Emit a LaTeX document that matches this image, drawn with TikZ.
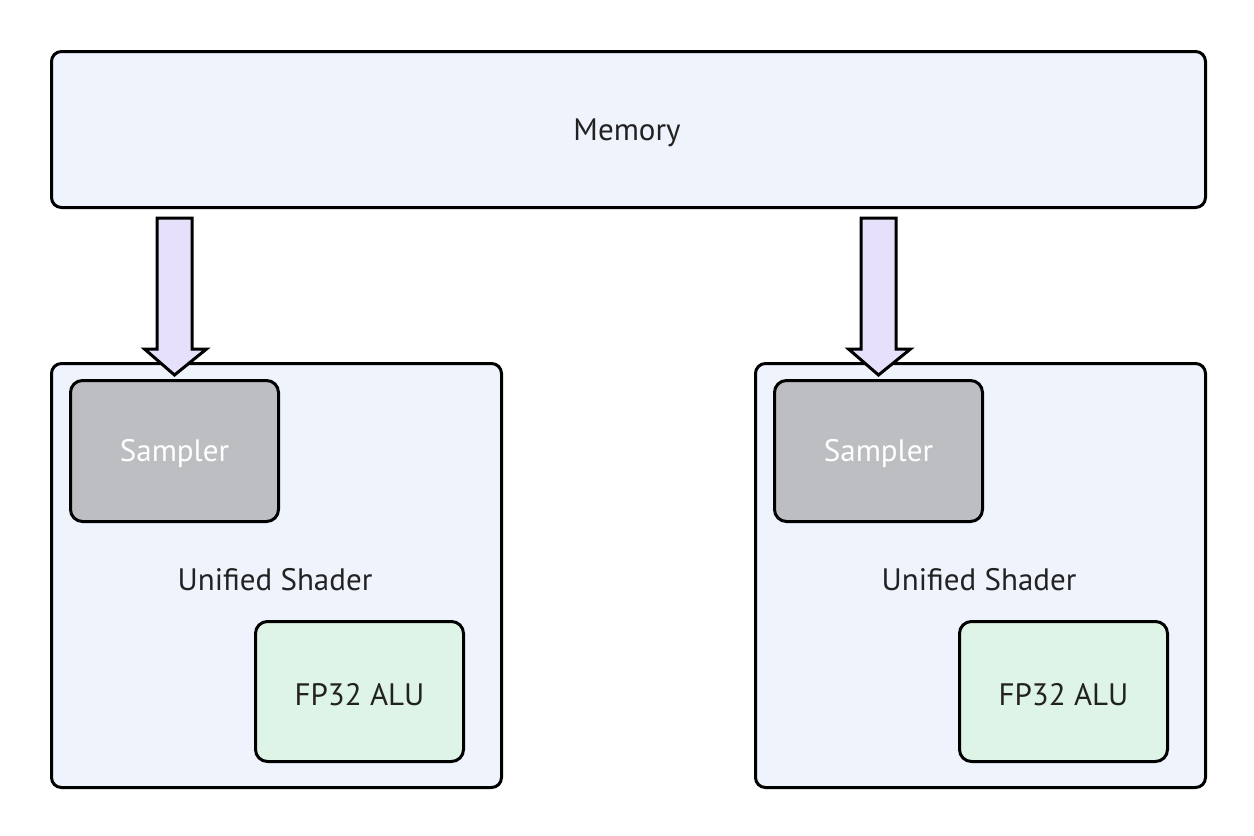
\documentclass[tikz,border=0pt]{standalone}
\usepackage{fontspec}
\setmainfont{PT Sans}
\usetikzlibrary{calc}
\definecolor{boxblue}{HTML}{EEF3FC}
\definecolor{samp}{HTML}{BCBEC2}
\definecolor{alu}{HTML}{DEF4E6}
\definecolor{lav}{HTML}{E7E0FB}
\definecolor{txt}{HTML}{222222}
\tikzset{
  box/.style={draw=black, line width=3pt, rounded corners=10pt, inner sep=0pt, anchor=north west},
  lbl/.style={font=\fontsize{31}{35}\selectfont, text=txt, yshift=-3pt},
  fatarrow/.style={draw=black, line width=3pt, fill=lav, line join=miter},
}
\begin{document}
\begin{tikzpicture}[x=1pt,y=-1pt]
\useasboundingbox (0,0) rectangle (1254,836);
\node[box, fill=boxblue, minimum width=1154pt, minimum height=156pt] (mem) at (50,50) {};
\node[lbl] (memt) at (627,130) {Memory};
\foreach \i/\dx in {1/0,2/704}{
  \node[box, fill=boxblue, minimum width=450pt, minimum height=424pt] (sh\i) at (50+\dx,362) {};
  \node[box, fill=samp, rounded corners=12pt, minimum width=208pt, minimum height=141pt] (s\i) at (69+\dx,379) {};
  \node[lbl, text=white] (st\i) at (s\i.center) {Sampler};
  \node[lbl] (ut\i) at (275+\dx,577) {Unified Shader};
  \node[box, fill=alu, rounded corners=12pt, minimum width=208pt, minimum height=140pt] (a\i) at (254+\dx,620) {};
  \node[lbl] (at\i) at (a\i.center) {FP32 ALU};
  \coordinate (tip\i) at ($(s\i.north)+(0,-4)$);
  \coordinate (top\i) at ($(mem.south)!(tip\i)!(mem.south east)+(0,9)$);
  \draw[fatarrow] ($(top\i)+(-17.5,0)$) -- ($(top\i)+(17.5,0)$) -- ($(tip\i)+(17.5,-26)$) -- ($(tip\i)+(32,-26)$) -- (tip\i) -- ($(tip\i)+(-30,-26)$) -- ($(tip\i)+(-17.5,-26)$) -- cycle;
}
\end{tikzpicture}
\end{document}
